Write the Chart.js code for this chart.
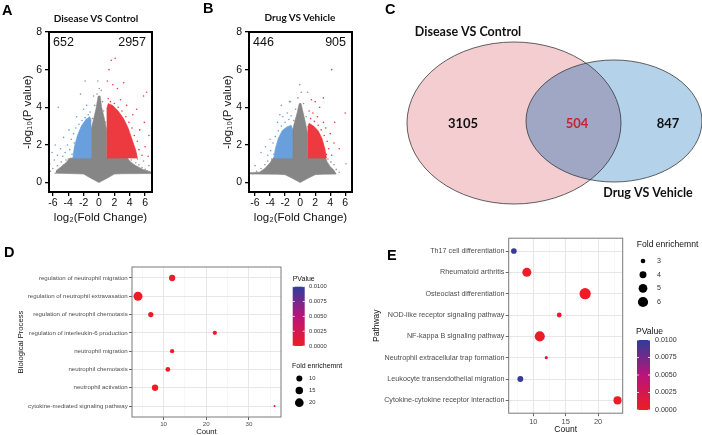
<!DOCTYPE html>
<html>
<head>
<meta charset="utf-8">
<script src="https://cdn.jsdelivr.net/npm/chart.js@4.4.1/dist/chart.umd.min.js"></script>
<style>
  html, body { margin: 0; padding: 0; background: #fff; }
  #fig { position: relative; width: 702px; height: 435px; overflow: hidden; font-family: "Liberation Sans", Arial, sans-serif; }
  #fig canvas { position: absolute; }
  .tag { position: absolute; font-weight: bold; font-size: 14.5px; line-height: 15px; color: #000; }
  .ttl { position: absolute; font-family: Lato, sans-serif; font-weight: bold; font-size: 10px; line-height: 10px; transform: translateX(-50%); white-space: nowrap; color: #111; }
</style>
</head>
<body>
<div id="fig">
  <canvas id="volA" width="172" height="232" style="left:0;top:0"></canvas>
  <canvas id="volB" width="172" height="232" style="left:200px;top:0"></canvas>
  <canvas id="venn" width="330" height="240" style="left:372px;top:0"></canvas>
  <canvas id="dotD" width="355" height="185" style="left:0;top:258px"></canvas>
  <canvas id="dotE" width="342" height="211" style="left:360px;top:232px"></canvas>
  <div class="tag" style="left:2px;top:3px">A</div>
  <div class="tag" style="left:203px;top:1px">B</div>
  <div class="tag" style="left:385px;top:2px">C</div>
  <div class="tag" style="left:4px;top:245px">D</div>
  <div class="tag" style="left:387px;top:248px">E</div>
  <div class="ttl" id="ttlA" style="left:96px;top:13px"></div>
  <div class="ttl" id="ttlB" style="left:300px;top:12px"></div>
</div>
<script>
// ---- volcano A : Disease VS Control ----
const aTitle = 'Disease VS Control';
const aCounts = [652, 2957];   // down, up
const aGrayArea = [[-5.6,0.5],[-3,0.47],[-2,0.45],[-1,0.22],[0,0],[1,0.22],[2,0.45],[3,0.47],[6.9,0.48],[6.9,0.55],[5.8,0.68],[4.8,0.9],[4.1,1.1],[3.7,1.3],[1,1.3],[1,2.8],[0.7,3.4],[0.35,4.0],[0.15,4.6],[-0.1,4.6],[-0.4,3.9],[-0.8,3.2],[-1,2.9],[-1,1.3],[-3.8,1.3],[-4.3,1.05],[-5,0.82],[-5.6,0.62]];
const aRedArea = [[1,1.3],[5.0,1.3],[4.8,1.7],[4.3,2.3],[3.8,2.9],[3.2,3.4],[2.5,3.8],[1.8,4.1],[1.2,4.2],[1,3.9]];
const aBlueArea = [[-1,1.3],[-3.4,1.3],[-3.2,1.9],[-2.8,2.5],[-2.3,3.0],[-1.7,3.35],[-1.2,3.5],[-1,3.3]];
const aGrayPts = [[-6.3,0.6],[-6.0,0.75],[-5.7,0.5],[-5.4,0.9],[-5.1,0.65],[-4.9,1.1],[-4.6,0.95],[-4.3,1.2],[-4.0,1.25],[-6.4,1.0],[-5.8,1.2],[-3.7,1.25],[4.2,1.2],[4.8,1.05],[5.2,0.95],[5.6,0.8],[6.0,0.7],[6.3,0.62],[6.6,0.55],[5.0,1.25],[5.8,1.15],[6.5,0.9],[0.05,5.0],[-0.25,4.7],[0.45,4.3],[-0.55,4.1],[0.6,3.8],[-0.85,3.4],[0.85,3.2],[-0.15,5.4],[-1.8,5.4],[-0.7,4.6],[0.3,4.9],[-5.3,4.0],[-2.4,4.7]];
const aRedPts = [[4.8,1.5],[5.2,1.75],[5.6,1.45],[6.0,1.9],[6.4,1.4],[5.0,2.2],[4.6,2.5],[4.3,2.9],[3.9,3.2],[3.5,3.5],[3.0,3.8],[2.5,4.0],[2.0,4.2],[1.5,4.3],[1.2,4.45],[2.8,4.4],[3.6,4.1],[4.4,3.6],[5.3,2.8],[5.9,3.2],[6.2,4.8],[5.8,4.6],[1.3,6.0],[1.6,6.5],[2.1,6.6],[1.8,5.2],[2.4,5.0],[3.2,5.3],[4.9,3.9],[6.5,2.5],[4.0,2.4],[1.1,5.4]];
const aBluePts = [[-3.5,1.5],[-3.8,1.75],[-4.1,2.0],[-4.4,1.6],[-4.7,1.4],[-5.0,1.8],[-5.4,1.45],[-3.6,2.3],[-3.3,2.6],[-3.0,2.9],[-2.6,3.1],[-2.2,3.3],[-1.8,3.45],[-1.4,3.6],[-1.15,3.75],[-2.9,3.5],[-2.0,3.9],[-1.6,4.1],[-3.9,2.8],[-4.6,2.4],[-5.7,2.0],[-6.1,1.6],[-3.2,2.1],[-2.5,2.6]];

// ---- volcano B : Drug VS Vehicle ----
const bTitle = 'Drug VS Vehicle';
const bCounts = [446, 905];
const bGrayArea = [[-6.8,0.46],[-3,0.44],[-2,0.42],[-1,0.22],[0,0],[1,0.22],[2,0.42],[3,0.44],[4.8,0.45],[4.5,0.65],[4.0,0.85],[3.6,1.1],[3.4,1.3],[1,1.3],[1,2.6],[0.7,3.2],[0.35,3.8],[0.12,4.2],[-0.12,4.2],[-0.4,3.7],[-0.75,3.2],[-1,2.8],[-1,1.3],[-3.6,1.3],[-4.0,1.05],[-4.7,0.75],[-5.4,0.55],[-6.8,0.52]];
const bRedArea = [[1,1.3],[3.5,1.3],[3.3,1.8],[2.9,2.35],[2.4,2.75],[1.8,3.0],[1.2,3.15],[1,2.95]];
const bBlueArea = [[-1,1.3],[-3.5,1.3],[-3.3,1.8],[-2.9,2.35],[-2.4,2.75],[-1.8,2.95],[-1.2,3.05],[-1,2.85]];
const bGrayPts = [[-0.05,5.2],[0.15,4.8],[-0.3,4.5],[0.45,4.2],[-0.6,3.9],[0.8,3.5],[-0.85,3.3],[-6.3,0.47],[-5.8,0.6],[-5.2,0.75],[-4.7,0.95],[-4.3,1.15],[-3.8,1.25],[4.1,1.1],[4.5,0.95],[4.8,0.7],[5.2,0.55],[3.7,1.25],[-2.5,4.1],[1.0,4.8],[-1.3,4.3],[-6.0,0.9],[6.1,1.0]];
const bRedPts = [[3.5,1.5],[3.8,1.8],[4.2,1.45],[3.6,2.2],[3.2,2.5],[2.8,2.8],[2.4,3.05],[1.9,3.25],[1.4,3.4],[1.2,3.8],[1.7,3.7],[2.3,3.5],[3.1,3.2],[3.4,2.9],[4.0,2.6],[4.5,2.1],[3.1,4.5],[2.0,4.3],[4.2,6.0],[6.0,3.7],[5.2,1.8],[2.6,4.0],[1.5,4.4],[4.6,3.2]];
const bBluePts = [[-3.5,1.5],[-3.9,1.7],[-4.3,1.45],[-3.6,2.1],[-3.3,2.45],[-2.9,2.75],[-2.5,3.0],[-2.0,3.2],[-1.5,3.35],[-1.2,3.55],[-1.7,3.7],[-2.3,3.5],[-3.0,3.2],[-4.0,2.3],[-4.6,1.9],[-1.4,4.3],[-5.2,1.6],[-2.7,3.6]];

// ---- venn C ----
const vennSets = ['Disease VS Control', 'Drug VS Vehicle'];
const vennCounts = [3105, 504, 847];   // only disease, both, only drug

// ---- GO dot plot D ----
const goTerms = ['regulation of neutrophil migration', 'regulation of neutrophil extravasation', 'regulation of neutrophil chemotaxis', 'regulation of interleukin-6 production', 'neutrophil migration', 'neutrophil chemotaxis', 'neutrophil activation', 'cytokine-mediated signaling pathway'];
const goCount = [12, 4, 7, 22, 12, 11, 8, 36];
const goFold = [11, 21, 8, 5.5, 5.5, 6.5, 11, 2];
const goP = [0.0002, 0.0001, 0.0003, 0.0004, 0.0002, 0.0003, 0.0001, 0.0005];
const goSizeBreaks = [10, 15, 20];

// ---- KEGG dot plot E ----
const keggPaths = ['Th17 cell differentiation', 'Rheumatoid arthritis', 'Osteoclast differentiation', 'NOD-like receptor signaling pathway', 'NF-kappa B signaling pathway', 'Neutrophil extracellular trap formation', 'Leukocyte transendothelial migration', 'Cytokine-cytokine receptor interaction'];
const keggCount = [7, 9, 18, 14, 11, 12, 8, 23];
const keggFold = [3.4, 5.2, 6.8, 3.1, 5.9, 2.6, 3.5, 4.6];
const keggP = [0.0096, 0.0002, 0.0001, 0.0004, 0.0003, 0.0018, 0.0098, 0.0001];
const keggSizeBreaks = [3, 4, 5, 6];

const pBreaks = [0.01, 0.0075, 0.005, 0.0025, 0];

// ---------------------------------------------------------------
Chart.defaults.font.family = '"Liberation Sans", Arial, sans-serif';
Chart.defaults.animation = false;
Chart.defaults.responsive = false;
Chart.defaults.plugins.legend.display = false;
Chart.defaults.plugins.tooltip.enabled = false;

const GRAY = '#868686', RED = '#ec3a40', BLUE = '#689fdc';
const P_MAX = 0.01;
const PSTOPS = [[0, [238, 28, 37]], [0.5, [184, 20, 122]], [1, [46, 61, 155]]];

function pColor(p) {
  const t = Math.min(1, Math.max(0, p / P_MAX));
  let i = 0;
  while (i < PSTOPS.length - 2 && t > PSTOPS[i + 1][0]) i++;
  const [t0, c0] = PSTOPS[i], [t1, c1] = PSTOPS[i + 1];
  const f = (t - t0) / (t1 - t0);
  const c = c0.map((v, k) => Math.round(v + (c1[k] - v) * f));
  return `rgb(${c[0]},${c[1]},${c[2]})`;
}

const frame = (color, width) => ({
  id: 'frame',
  afterDatasetsDraw(chart) {
    const { ctx, chartArea: a } = chart;
    ctx.save();
    ctx.strokeStyle = color;
    ctx.lineWidth = width;
    ctx.strokeRect(a.left, a.top, a.right - a.left, a.bottom - a.top);
    ctx.restore();
  }
});

const countLabels = counts => ({
  id: 'counts',
  afterDraw(chart) {
    const { ctx, chartArea: a } = chart;
    ctx.save();
    ctx.font = '12.5px "Liberation Sans", Arial';
    ctx.fillStyle = '#111';
    ctx.textBaseline = 'top';
    ctx.textAlign = 'left';
    ctx.fillText(String(counts[0]), a.left + 4, a.top + 4);
    ctx.textAlign = 'right';
    ctx.fillText(String(counts[1]), a.right - 6, a.top + 4);
    ctx.restore();
  }
});

function volcano(id, v, xMin, xMax) {
  const xy = arr => arr.map(([x, y]) => ({ x, y }));
  const area = (d, c, order) => ({ type: 'line', data: xy(d), fill: 'shape', backgroundColor: c, borderColor: c, borderWidth: 0.6, pointRadius: 0, tension: 0, order });
  const dots = (d, c, order) => ({ type: 'scatter', data: xy(d), backgroundColor: c, borderWidth: 0, pointRadius: 0.8, order });
  const tickFont = { size: 10.5 };
  new Chart(document.getElementById(id), {
    type: 'scatter',
    data: {
      datasets: [
        area(v.gray, GRAY, 6), dots(v.grayPts, '#959595', 5),
        area(v.blue, BLUE, 4), dots(v.bluePts, BLUE, 3),
        area(v.red, RED, 2), dots(v.redPts, RED, 1)
      ]
    },
    options: {
      layout: { padding: { top: 32, right: 20, left: 0, bottom: 0 } },
      scales: {
        x: {
          type: 'linear', min: xMin, max: xMax,
          afterFit: s => { s.height = 40; },
          ticks: { stepSize: 2, includeBounds: false, autoSkip: false, maxRotation: 0, color: '#111', font: tickFont, padding: 1 },
          grid: { drawOnChartArea: false, tickLength: 4, color: '#000', lineWidth: 1.3 },
          border: { color: '#000', width: 2 },
          title: { display: true, text: 'log\u2082(Fold Change)', color: '#111', font: { size: 11.5 }, padding: { top: 0, bottom: 7 } }
        },
        y: {
          type: 'linear', min: -0.5, max: 8,
          afterFit: s => { s.width = 49; },
          ticks: { stepSize: 2, includeBounds: false, color: '#111', font: tickFont, padding: 3 },
          grid: { drawOnChartArea: false, tickLength: 4, color: '#000', lineWidth: 1.3 },
          border: { color: '#000', width: 2 },
          title: { display: true, text: '-log\u2081\u2080(P value)', color: '#111', font: { size: 11.5 }, padding: { top: 21, bottom: 0 } }
        }
      }
    },
    plugins: [frame('#000', 2), countLabels(v.counts)]
  });
}

document.getElementById('ttlA').textContent = aTitle;
document.getElementById('ttlB').textContent = bTitle;

volcano('volA', { gray: aGrayArea, red: aRedArea, blue: aBlueArea, grayPts: aGrayPts, redPts: aRedPts, bluePts: aBluePts, counts: aCounts }, -6.5, 6.9);
volcano('volB', { gray: bGrayArea, red: bRedArea, blue: bBlueArea, grayPts: bGrayPts, redPts: bRedPts, bluePts: bBluePts, counts: bCounts }, -6.8, 6.9);

// ---- venn: layout in the canvas' own units ----
const VENN = {
  ellipses: [
    { cx: 142, cy: 123, rx: 107, ry: 81, fill: '#f3cdd0' },
    { cx: 242, cy: 121, rx: 88, ry: 61, fill: '#b4d3eb' }
  ],
  overlap: '#a0a7c5',
  countPos: [[91, 124], [205, 124], [296, 124]],
  setPos: [[96, 32], [276, 193]]
};

const vennPlugin = {
  id: 'venn',
  afterDatasetsDraw(chart) {
    const { ctx, scales: { x, y } } = chart;
    const px = v => x.getPixelForValue(v), py = v => y.getPixelForValue(v);
    const ell = e => {
      ctx.beginPath();
      ctx.ellipse(px(e.cx), py(e.cy), Math.abs(px(e.cx + e.rx) - px(e.cx)), Math.abs(py(e.cy + e.ry) - py(e.cy)), 0, 0, Math.PI * 2);
    };
    const [a, b] = VENN.ellipses;
    ctx.save();
    ell(a); ctx.fillStyle = a.fill; ctx.fill();
    ell(b); ctx.fillStyle = b.fill; ctx.fill();
    ctx.save(); ell(a); ctx.clip(); ell(b); ctx.fillStyle = VENN.overlap; ctx.fill(); ctx.restore();
    ctx.strokeStyle = '#3a3a3a'; ctx.lineWidth = 0.8;
    ell(a); ctx.stroke(); ell(b); ctx.stroke();
    ctx.textAlign = 'center'; ctx.textBaseline = 'middle';
    ctx.font = 'bold 13px Lato, sans-serif';
    vennCounts.forEach((n, i) => {
      ctx.fillStyle = i === 1 ? '#c4262e' : '#111';
      const [cx, cy] = VENN.countPos[i];
      ctx.fillText(String(n), px(cx), py(cy));
    });
    ctx.font = 'bold 12.5px Lato, sans-serif';
    ctx.fillStyle = '#111';
    vennSets.forEach((s, i) => {
      const [cx, cy] = VENN.setPos[i];
      ctx.fillText(s, px(cx), py(cy));
    });
    ctx.restore();
  }
};

new Chart(document.getElementById('venn'), {
  type: 'scatter',
  data: { datasets: [] },
  options: {
    layout: { padding: 0 },
    scales: {
      x: { display: false, min: 0, max: 330 },
      y: { display: false, min: 0, max: 240, reverse: true }
    }
  },
  plugins: [vennPlugin]
});

// ---- dot plots ----
function dotLegend(L, sizeBreaks, sizeFn) {
  return {
    id: 'dotLegend',
    afterDraw(chart) {
      const ctx = chart.ctx;
      ctx.save();
      ctx.textBaseline = 'middle'; ctx.textAlign = 'left';
      ctx.fillStyle = '#111';
      ctx.font = `${L.titleSize}px "Liberation Sans", Arial`;
      ctx.fillText('PValue', L.pTitle[0], L.pTitle[1]);
      ctx.fillText('Fold enrichemnt', L.sTitle[0], L.sTitle[1]);
      const { x, y, w, h } = L.bar;
      const g = ctx.createLinearGradient(0, y + h, 0, y);
      PSTOPS.forEach(([t]) => g.addColorStop(t, pColor(t * P_MAX)));
      ctx.fillStyle = g;
      ctx.fillRect(x, y, w, h);
      ctx.font = `${L.labelSize}px "Liberation Sans", Arial`;
      pBreaks.forEach(p => {
        const yy = y + h - (p / P_MAX) * h;
        ctx.fillStyle = '#fff';
        ctx.fillRect(x, yy - 0.4, 2, 0.8);
        ctx.fillRect(x + w - 2, yy - 0.4, 2, 0.8);
        ctx.fillStyle = '#333';
        ctx.fillText(p.toFixed(4), x + w + L.gap, yy);
      });
      sizeBreaks.forEach((s, i) => {
        const yy = L.s0 + i * L.sd;
        ctx.beginPath();
        ctx.arc(L.sx, yy, sizeFn(s), 0, Math.PI * 2);
        ctx.fillStyle = '#000';
        ctx.fill();
        ctx.fillStyle = '#333';
        ctx.fillText(String(s), L.slx, yy);
      });
      ctx.restore();
    }
  };
}

function dotPlot(c) {
  const n = c.names.length;
  const pts = c.names.map((_, i) => ({ x: c.counts[i], y: i + 1, r: c.size(c.folds[i]) }));
  const isMajor = v => Math.abs(v / c.major - Math.round(v / c.major)) < 1e-6;
  new Chart(document.getElementById(c.id), {
    type: 'bubble',
    data: { datasets: [{ data: pts, backgroundColor: c.pvals.map(pColor), borderWidth: 0 }] },
    options: {
      layout: { padding: c.padding },
      scales: {
        x: {
          type: 'linear', min: c.xMin, max: c.xMax,
          afterFit: s => { s.height = c.xHeight; },
          ticks: {
            stepSize: c.step, includeBounds: false, autoSkip: false, maxRotation: 0,
            color: '#4d4d4d', font: { size: c.tickSize }, padding: 1,
            callback: v => (isMajor(v) ? String(v) : '')
          },
          grid: {
            color: ctx => (ctx.tick && isMajor(ctx.tick.value) ? '#e4e4e4' : '#f1f1f1'),
            lineWidth: ctx => (ctx.tick && isMajor(ctx.tick.value) ? 0.9 : 0.6),
            tickLength: 3,
            tickColor: ctx => (ctx.tick && isMajor(ctx.tick.value) ? '#555' : 'rgba(0,0,0,0)')
          },
          border: { display: false },
          title: { display: true, text: 'Count', color: '#111', font: { size: c.titleSize }, padding: { top: 0, bottom: c.xTitlePad } }
        },
        y: {
          type: 'linear', reverse: true, min: 0.4, max: n + 0.6,
          afterFit: s => { s.width = c.yWidth; },
          ticks: {
            stepSize: 1, includeBounds: false, autoSkip: false,
            color: '#4d4d4d', font: { size: c.labelSize }, padding: 1.3,
            callback: v => c.names[Math.round(v) - 1] || ''
          },
          grid: { color: '#e4e4e4', lineWidth: 0.9, tickLength: 3, tickColor: '#555' },
          border: { display: false },
          title: { display: true, text: c.yTitle, color: '#111', font: { size: c.titleSize }, padding: { top: c.yTitlePad, bottom: 0 } }
        }
      }
    },
    plugins: [frame('#7a7a7a', 1), dotLegend(c.legend, c.sizeBreaks, c.size)]
  });
}

const sizeD = f => Math.sqrt(Math.max(0.8, 0.99 * f - 0.9));
const sizeE = f => Math.sqrt(Math.max(1.5, 6.9 * f - 15.4));

dotPlot({
  id: 'dotD', names: goTerms, counts: goCount, folds: goFold, pvals: goP, size: sizeD, sizeBreaks: goSizeBreaks,
  xMin: 2.6, xMax: 37.5, step: 5, major: 10,
  padding: { top: 9, right: 74, left: 0, bottom: 0 },
  xHeight: 26, yWidth: 132, xTitlePad: 6.9, yTitlePad: 16.6,
  tickSize: 6.2, labelSize: 6.1, titleSize: 7.7, yTitle: 'Biological Process',
  legend: { titleSize: 7, labelSize: 5.8, pTitle: [292.7, 21], bar: { x: 292.7, y: 28.7, w: 12, h: 59.3 }, gap: 4.3,
            sTitle: [292, 108], sx: 299.3, s0: 120.5, sd: 12.1, slx: 309 }
});

dotPlot({
  id: 'dotE', names: keggPaths, counts: keggCount, folds: keggFold, pvals: keggP, size: sizeE, sizeBreaks: keggSizeBreaks,
  xMin: 6.2, xMax: 23.8, step: 2.5, major: 5,
  padding: { top: 6.2, right: 79.3, left: 0, bottom: 0 },
  xHeight: 29.8, yWidth: 148.7, xTitlePad: 8.6, yTitlePad: 11.6,
  tickSize: 7.5, labelSize: 7.2, titleSize: 8.5, yTitle: 'Pathway',
  legend: { titleSize: 8.6, labelSize: 7.1, pTitle: [276, 99.7], bar: { x: 277, y: 108, w: 13, h: 70 }, gap: 5,
            sTitle: [276.7, 13], sx: 283, s0: 29, sd: 13.67, slx: 297 }
});
</script>
</body>
</html>
